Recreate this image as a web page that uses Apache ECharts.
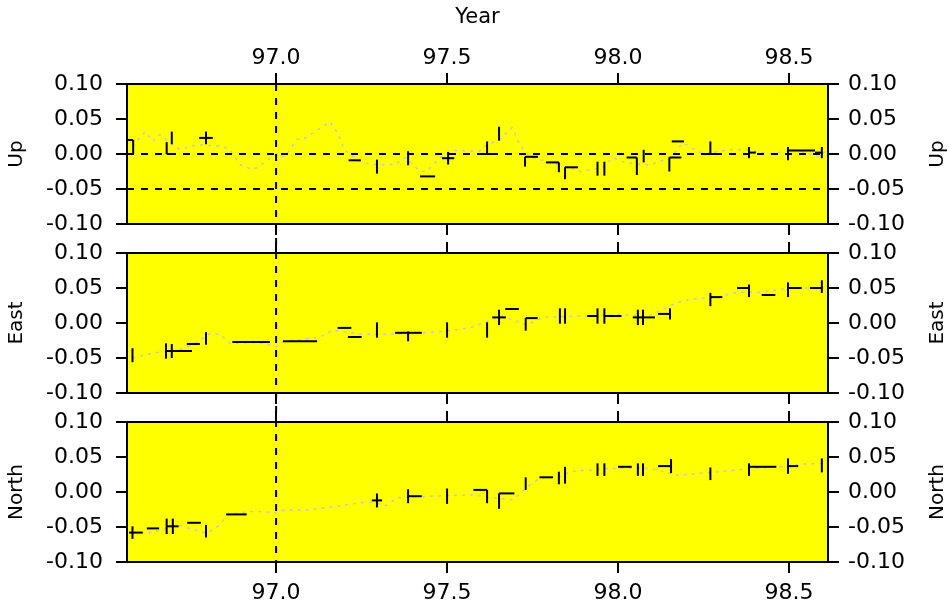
<!DOCTYPE html>
<html>
<head>
<meta charset="utf-8">
<title>Up / East / North</title>
<script src="https://cdn.jsdelivr.net/npm/echarts@6/dist/echarts.min.js"></script>
<style>
  html, body { margin: 0; padding: 0; background: #fff; }
  #chart { width: 949px; height: 610px; }
</style>
</head>
<body>
<div id="chart"></div>
<script>
// year ticks and value ticks
const yearTicks = [97.0, 97.5, 98.0, 98.5];
const valueTicks = [-0.1, -0.05, 0, 0.05, 0.1];
const yearRange = [96.564, 98.614];
const valueRange = [-0.1, 0.1];
const panelNames = ["Up", "East", "North"];

// grey track: [year, value]
const upTrack = [
  [96.58, 0.011], [96.617, 0.032], [96.64, 0.018], [96.66, 0.028], [96.70, 0.012], [96.72, 0.006],
  [96.75, 0.011], [96.777, 0.013], [96.842, 0.011], [96.865, 0.006], [96.894, -0.015], [96.93, -0.022],
  [96.947, -0.019], [97.0, 0], [97.026, -0.004], [97.061, 0.021], [97.08, 0.021], [97.157, 0.046],
  [97.18, 0.03], [97.2, 0.006], [97.245, -0.011], [97.283, -0.015], [97.348, -0.015], [97.377, -0.005],
  [97.421, -0.025], [97.44, -0.025], [97.48, -0.005], [97.523, 0.005], [97.596, 0.004], [97.61, 0.011],
  [97.655, 0.021], [97.69, 0.038], [97.713, 0.013], [97.742, -0.004], [97.795, -0.011], [97.845, -0.018],
  [97.889, -0.025], [97.956, -0.019], [97.985, -0.005], [98.02, -0.012], [98.093, -0.016], [98.152, -0.005],
  [98.19, 0.016], [98.248, 0], [98.327, 0.006], [98.377, 0.006], [98.444, 0], [98.517, 0.006],
  [98.59, -0.004], [98.61, 0.006]
];
const eastTrack = [
  [96.58, -0.05], [96.62, -0.045], [96.68, -0.04], [96.72, -0.038], [96.76, -0.03], [96.807, -0.015],
  [96.836, -0.016], [96.865, -0.029], [96.95, -0.028], [97.003, -0.034], [97.02, -0.027], [97.128, -0.02],
  [97.166, -0.01], [97.245, -0.016], [97.342, -0.016], [97.47, -0.013], [97.517, -0.01], [97.567, -0.007],
  [97.605, 0], [97.66, 0.01], [97.734, -0.003], [97.78, 0.008], [97.89, 0.01], [98.0, 0.012],
  [98.09, 0.01], [98.172, 0.029], [98.21, 0.034], [98.29, 0.037], [98.35, 0.044], [98.424, 0.044],
  [98.445, 0.046], [98.503, 0.05], [98.54, 0.05], [98.61, 0.05]
];
const northTrack = [
  [96.58, -0.058], [96.64, -0.058], [96.71, -0.047], [96.798, -0.059], [96.836, -0.047], [96.856, -0.033],
  [96.915, -0.028], [96.96, -0.028], [97.003, -0.03], [97.02, -0.026], [97.09, -0.026], [97.166, -0.021],
  [97.266, -0.014], [97.324, -0.019], [97.354, -0.008], [97.45, -0.006], [97.576, -0.004], [97.625, -0.008],
  [97.693, -0.011], [97.734, 0.007], [97.772, 0.02], [97.83, 0.022], [97.86, 0.029], [97.956, 0.033],
  [98.01, 0.034], [98.093, 0.034], [98.172, 0.024], [98.248, 0.027], [98.318, 0.03], [98.377, 0.033],
  [98.503, 0.037], [98.54, 0.04], [98.61, 0.041]
];

// black marks: [year, value, err down, err up, span left, span right]
const upMarks = [
  [96.582, 0.020, 0.020, 0, 0.018, 0], [96.680, 0.000, 0, 0.017, 0, 0.018],
  [96.695, 0.023, 0.009, 0.009, 0, 0], [96.795, 0.023, 0.009, 0.009, 0.020, 0.020],
  [97.230, -0.009, 0, 0, 0.018, 0.018], [97.295, -0.018, 0.010, 0.010, 0, 0],
  [97.386, -0.006, 0.010, 0.010, 0, 0], [97.443, -0.032, 0, 0, 0.022, 0.022],
  [97.503, -0.006, 0.009, 0.009, 0.018, 0.018], [97.617, 0.000, 0, 0.018, 0.020, 0.020],
  [97.652, 0.029, 0.010, 0.010, 0, 0], [97.728, -0.004, 0.014, 0, 0, 0.038],
  [97.827, -0.012, 0.014, 0, 0.038, 0], [97.845, -0.019, 0.017, 0, 0, 0.038],
  [97.940, -0.021, 0.010, 0.010, 0, 0], [97.960, -0.021, 0.010, 0.010, 0, 0],
  [98.055, -0.005, 0.025, 0, 0.030, 0], [98.075, -0.003, 0.009, 0.009, 0, 0],
  [98.150, -0.005, 0.020, 0, 0, 0.035], [98.175, 0.018, 0, 0, 0.018, 0.018],
  [98.270, 0.000, 0, 0.018, 0.020, 0.020], [98.383, 0.002, 0.008, 0.008, 0, 0.020],
  [98.497, 0.005, 0.014, 0.005, 0, 0.079], [98.596, 0.002, 0.008, 0.008, 0.020, 0]
];
const eastMarks = [
  [96.580, -0.046, 0.010, 0.010, 0, 0], [96.678, -0.040, 0.011, 0.011, 0, 0.076],
  [96.695, -0.040, 0.010, 0.010, 0, 0], [96.758, -0.030, 0, 0, 0.019, 0.019],
  [96.795, -0.022, 0.009, 0.009, 0, 0], [96.927, -0.027, 0, 0, 0.055, 0.055],
  [97.070, -0.026, 0, 0, 0.050, 0.050], [97.200, -0.007, 0, 0, 0.020, 0.020],
  [97.230, -0.020, 0, 0, 0.020, 0.020], [97.295, -0.010, 0.011, 0.011, 0, 0],
  [97.386, -0.014, 0.012, 0.002, 0.038, 0.040], [97.500, -0.010, 0.011, 0.011, 0, 0],
  [97.617, -0.010, 0.011, 0.011, 0, 0], [97.652, 0.008, 0.011, 0.011, 0.020, 0.020],
  [97.690, 0.020, 0, 0, 0.020, 0.020], [97.730, 0.007, 0.018, 0, 0, 0.035],
  [97.830, 0.010, 0.011, 0.011, 0, 0], [97.845, 0.010, 0.011, 0.011, 0, 0],
  [97.940, 0.010, 0.011, 0.011, 0.030, 0], [97.960, 0.010, 0.011, 0.011, 0, 0.050],
  [98.058, 0.008, 0.011, 0.011, 0.015, 0.050], [98.073, 0.008, 0.011, 0.011, 0, 0],
  [98.152, 0.013, 0.008, 0.008, 0.035, 0], [98.270, 0.037, 0.013, 0.006, 0, 0.035],
  [98.383, 0.050, 0.013, 0.005, 0.035, 0], [98.420, 0.040, 0, 0, 0, 0.040],
  [98.497, 0.050, 0.013, 0.008, 0, 0.040], [98.596, 0.050, 0.007, 0.011, 0.035, 0]
];
const northMarks = [
  [96.580, -0.058, 0.009, 0.009, 0.010, 0.030], [96.640, -0.052, 0, 0, 0.018, 0.018],
  [96.680, -0.049, 0.011, 0.011, 0, 0.035], [96.698, -0.049, 0.011, 0.011, 0, 0],
  [96.760, -0.044, 0, 0, 0.020, 0.020], [96.795, -0.056, 0.009, 0.009, 0, 0],
  [96.884, -0.032, 0, 0, 0.030, 0.030], [97.295, -0.012, 0.010, 0.010, 0.015, 0.015],
  [97.386, -0.006, 0.010, 0.010, 0, 0.040], [97.500, -0.006, 0.011, 0.011, 0, 0],
  [97.617, 0.003, 0.019, 0, 0.040, 0], [97.652, -0.002, 0.022, 0, 0, 0.045],
  [97.730, 0.012, 0.009, 0.009, 0, 0], [97.790, 0.021, 0, 0, 0.020, 0.020],
  [97.827, 0.020, 0.009, 0.009, 0, 0], [97.845, 0.024, 0.012, 0.012, 0, 0],
  [97.940, 0.032, 0.009, 0.009, 0, 0], [97.960, 0.032, 0.009, 0.009, 0, 0],
  [98.020, 0.036, 0, 0, 0.020, 0.020], [98.058, 0.032, 0.009, 0.009, 0, 0],
  [98.073, 0.032, 0.009, 0.009, 0, 0], [98.155, 0.037, 0.010, 0.010, 0.038, 0],
  [98.270, 0.026, 0.009, 0.009, 0, 0], [98.383, 0.036, 0.013, 0.005, 0, 0.080],
  [98.497, 0.037, 0.011, 0.011, 0, 0.030], [98.596, 0.038, 0.010, 0.010, 0, 0]
];

const tracks = [upTrack, eastTrack, northTrack];
const marks = [upMarks, eastMarks, northMarks];

const font = "DejaVu Sans";
const gridTops = [84, 253, 422];
const gridHeight = 140;
const tickLen = 11;

function renderMark(params, api) {
  const t = api.value(0), v = api.value(1);
  const lo = api.coord([t, v - api.value(2)]);
  const hi = api.coord([t, v + api.value(3)]);
  const l = api.coord([t - api.value(4), v]);
  const r = api.coord([t + api.value(5), v]);
  const style = { stroke: "#000", lineWidth: 2 };
  const children = [];
  if (api.value(2) + api.value(3) > 0) {
    children.push({ type: "line", shape: { x1: lo[0], y1: lo[1], x2: hi[0], y2: hi[1] }, style });
  }
  if (api.value(4) + api.value(5) > 0) {
    children.push({ type: "line", shape: { x1: l[0], y1: l[1], x2: r[0], y2: r[1] }, style });
  }
  return { type: "group", children };
}

// outward value ticks on both sides of a panel, placed through its own axes
function renderValueTicks(params, api) {
  const children = [];
  valueTicks.forEach((v) => {
    const left = api.coord([yearRange[0], v]);
    const right = api.coord([yearRange[1], v]);
    children.push({ type: "rect", shape: { x: left[0] - tickLen, y: left[1] - 1, width: tickLen, height: 2 }, style: { fill: "#000" } });
    children.push({ type: "rect", shape: { x: right[0], y: right[1] - 1, width: tickLen, height: 2 }, style: { fill: "#000" } });
  });
  return { type: "group", children };
}

const grids = [], xAxes = [], yAxes = [], series = [];

function edge() {
  return { show: true, onZero: false, lineStyle: { color: "#000", width: 2 } };
}

gridTops.forEach((top, i) => {
  grids.push({
    left: 127, right: 121, top, height: gridHeight,
    outerBoundsMode: "none", containLabel: false,
    show: true, backgroundColor: "#ffff00", borderColor: "#000", borderWidth: 2,
  });
  ["top", "bottom"].forEach((pos) => {
    const showLabel = (i === 0 && pos === "top") || (i === 2 && pos === "bottom");
    xAxes.push({
      type: "value", gridIndex: i, position: pos,
      min: yearRange[0], max: yearRange[1],
      name: i === 0 && pos === "top" ? "Year" : "",
      nameLocation: "middle", nameGap: 56,
      nameTextStyle: { fontFamily: font, fontSize: 21, color: "#000" },
      axisLine: edge(),
      axisTick: { show: true, inside: false, length: tickLen, customValues: yearTicks, lineStyle: { color: "#000", width: 2 } },
      axisLabel: {
        show: showLabel, customValues: yearTicks, margin: pos === "top" ? 15 : 20,
        fontFamily: font, fontSize: 22, color: "#000",
        formatter: (v) => v.toFixed(1),
      },
      splitLine: { show: false },
    });
  });
  ["left", "right"].forEach((pos) => {
    yAxes.push({
      type: "value", gridIndex: i, position: pos,
      min: valueRange[0], max: valueRange[1], interval: 0.05,
      name: panelNames[i], nameLocation: "middle", nameRotate: 90,
      nameGap: 100,
      nameTextStyle: { fontFamily: font, fontSize: 20, color: "#000" },
      axisLine: edge(),
      axisTick: { show: true, inside: false, length: tickLen, lineStyle: { color: "#000", width: 2 } },
      axisLabel: {
        customValues: valueTicks,
        margin: pos === "left" ? 24 : 20,
        fontFamily: font, fontSize: 22, color: "#000",
        formatter: (v) => v.toFixed(2),
      },
      splitLine: { show: false },
    });
  });

  const trackSeries = {
    type: "line", xAxisIndex: i * 2 + 1, yAxisIndex: i * 2,
    data: tracks[i], symbol: "none", silent: true,
    lineStyle: { color: "#c8c8c8", width: 1.5, type: [3, 5] },
    z: 2,
  };
  if (i === 0) {
    trackSeries.markLine = {
      silent: true, symbol: "none", label: { show: false },
      lineStyle: { color: "#000", width: 2, type: [7, 7] },
      data: [{ yAxis: 0 }, { yAxis: -0.05 }],
    };
  }
  series.push(trackSeries);
  series.push({
    type: "custom", xAxisIndex: i * 2 + 1, yAxisIndex: i * 2,
    data: marks[i], renderItem: renderMark, silent: true,
    encode: { x: 0, y: 1 }, z: 3,
  });
  series.push({
    type: "custom", xAxisIndex: i * 2 + 1, yAxisIndex: i * 2,
    data: [[yearRange[0], 0]], renderItem: renderValueTicks,
    silent: true, clip: false, z: 20,
  });
});

const chart = echarts.init(document.getElementById("chart"));
chart.setOption({
  animation: false,
  backgroundColor: "#fff",
  grid: grids,
  xAxis: xAxes,
  yAxis: yAxes,
  series,
});

// dashed year marker through all three panels
const x97 = chart.convertToPixel({ xAxisIndex: 1 }, 97.0);
const yTop = chart.convertToPixel({ yAxisIndex: 0 }, valueRange[1]);
const yBottom = chart.convertToPixel({ yAxisIndex: 4 }, valueRange[0]);
chart.setOption({
  graphic: [{
    type: "line", silent: true, z: 10,
    shape: { x1: x97, y1: yTop, x2: x97, y2: yBottom },
    style: { stroke: "#000", lineWidth: 2, lineDash: [7, 7] },
  }],
});

window.addEventListener("resize", () => chart.resize());
</script>
</body>
</html>
